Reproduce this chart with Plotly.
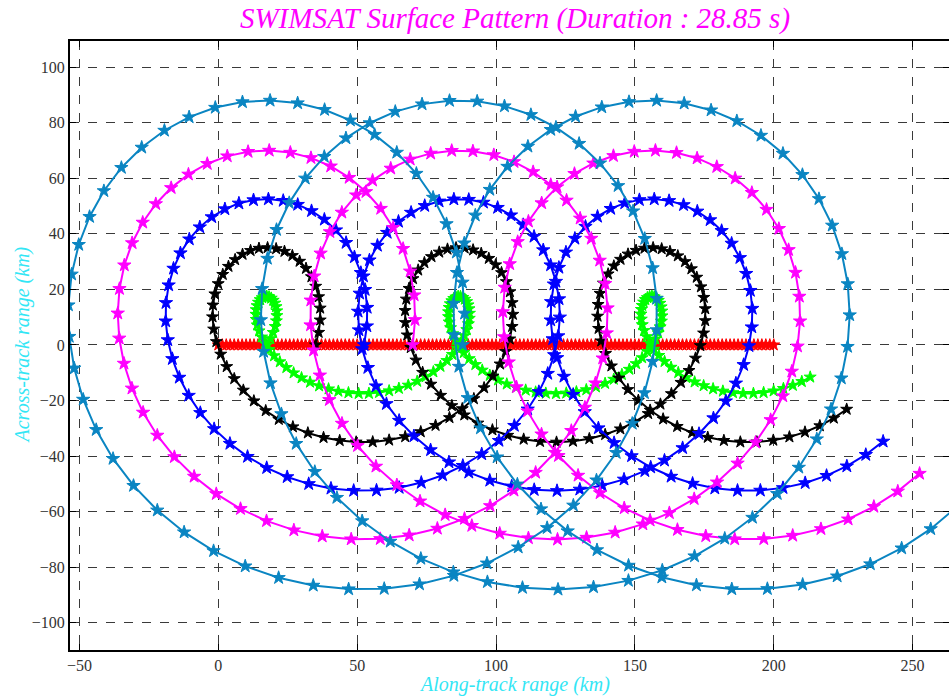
import numpy as np
import plotly.graph_objects as go

# ---- values ----
duration_s = 28.85                 # title
along_track_km = 200.0             # nadir (red) track length
rotation_period_s = 10.0           # one revolution of the beams (6 rpm)
n_samples = 141                    # markers per trace
beam_names = ["Nadir", "Beam 1", "Beam 2", "Beam 3", "Beam 4", "Beam 5"]
beam_radius_km = [0.0, 17.5, 35.0, 52.5, 70.0, 88.0]
beam_colors = ["#FF0000", "#00FF00", "#000000", "#0000FF", "#FF00FF", "#0A85C2"]
marker_sizes = [9, 9, 9, 10, 10, 10]

x_ticks = [-50, 0, 50, 100, 150, 200, 250]
y_ticks = [-100, -80, -60, -40, -20, 0, 20, 40, 60, 80, 100]

# ---- geometry of the rotating beams over the moving nadir point ----
t = np.linspace(0.0, duration_s, n_samples)
nadir_x = along_track_km * t / duration_s
theta = 2 * np.pi * t / rotation_period_s

fig = go.Figure()
for name, r, col, ms in zip(beam_names, beam_radius_km, beam_colors, marker_sizes):
    fig.add_trace(go.Scatter(
        x=nadir_x + r * np.cos(theta),
        y=r * np.sin(theta),
        mode="lines+markers",
        name=name,
        line=dict(color=col, width=2),
        marker=dict(symbol="star", size=ms, color=col,
                    line=dict(color=col, width=1)),
        showlegend=False,
        cliponaxis=True,
        hoverinfo="skip",
    ))

serif = "Liberation Serif, Times New Roman, serif"
axis_common = dict(
    showline=True, linecolor="black", linewidth=2, mirror="ticks",
    ticks="inside", ticklen=6, tickcolor="black", tickwidth=1,
    showgrid=True, gridcolor="#3a3a3a", gridwidth=1, griddash="dash",
    zeroline=False, automargin=False,
    tickfont=dict(family=serif, size=16, color="#333333"),
)

fig.update_layout(
    width=949, height=696,
    margin=dict(l=70, r=0, t=41, b=46),
    paper_bgcolor="white", plot_bgcolor="white",
    title=dict(
        text="<i>SWIMSAT Surface Pattern (Duration : 28.85 s)</i>",
        font=dict(family=serif, size=29, color="#FF00FF"),
        x=515 / 949, xanchor="center", y=1 - 18 / 696, yanchor="middle",
    ),
    xaxis=dict(range=[-53.4, 263.1], tickvals=x_ticks, **axis_common),
    yaxis=dict(range=[-109.8, 109.4], tickvals=y_ticks, **axis_common),
    annotations=[
        dict(text="<i>Along-track range (km)</i>", xref="paper", yref="paper",
             x=(514 - 70) / 879, y=-(684 - 650) / 609, xanchor="center", yanchor="middle",
             showarrow=False, font=dict(family=serif, size=20, color="#33E6F5")),
        dict(text="<i>Across-track range (km)</i>", xref="paper", yref="paper",
             x=-(70 - 22) / 879, y=0.5, xanchor="center", yanchor="middle",
             textangle=-90, showarrow=False,
             font=dict(family=serif, size=20, color="#33E6F5")),
    ],
)

fig.write_html(
    "out.html",
    config={"displayModeBar": False},
    post_script="document.body.style.margin='0';document.body.style.overflow='hidden';",
)
